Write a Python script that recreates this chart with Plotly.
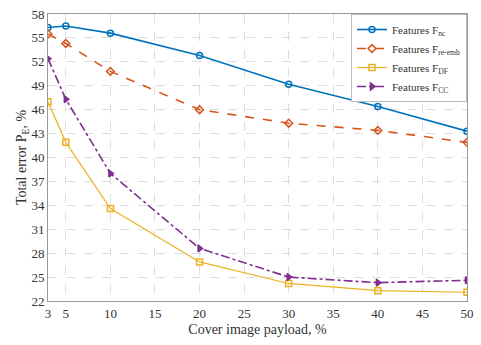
import plotly.graph_objects as go

payload = [3, 5, 10, 20, 30, 40, 50]
f_nc = [56.3, 56.5, 55.6, 52.8, 49.2, 46.4, 43.3]
f_re_emb = [55.5, 54.3, 50.8, 46.0, 44.3, 43.4, 41.9]
f_df = [47.0, 41.9, 33.6, 26.9, 24.2, 23.3, 23.1]
f_cc = [52.4, 47.3, 38.0, 28.6, 25.0, 24.3, 24.6]

x_ticks = [3, 5, 10, 15, 20, 25, 30, 35, 40, 45, 50]
y_ticks = [22, 25, 28, 31, 34, 37, 40, 43, 46, 49, 52, 55, 58]

series = [
    ("Features F<sub>nc</sub>", f_nc, "#0072BD", "circle-open", "solid", 1.6),
    ("Features F<sub>re-emb</sub>", f_re_emb, "#D95319", "diamond-open", "dash", 1.6),
    ("Features F<sub>DF</sub>", f_df, "#EDB120", "square-open", "solid", 1.2),
    ("Features F<sub>CC</sub>", f_cc, "#7E2F8E", "triangle-right", "dashdot", 1.6),
]

fig = go.Figure()
for name, vals, col, sym, dash, w in series:
    fig.add_trace(go.Scatter(
        x=payload, y=vals, name=name, mode="lines+markers",
        line=dict(color=col, width=w, dash=dash),
        marker=dict(symbol=sym, size=6, color=col, line=dict(color=col, width=1.5)),
    ))

font = "Liberation Serif, Times New Roman, serif"
fig.update_layout(
    width=481, height=345,
    margin=dict(l=48, r=10, t=7, b=44),
    paper_bgcolor="white", plot_bgcolor="white",
    font=dict(family=font, size=13, color="#333"),
    showlegend=True,
    legend=dict(x=1, y=1, xanchor="right", yanchor="top",
                bgcolor="white", bordercolor="#bbb", borderwidth=1,
                font=dict(size=11, family=font, color="#333"),
                tracegroupgap=0, itemwidth=30),
    xaxis=dict(range=[3, 50], tickvals=x_ticks, showgrid=True,
               gridcolor="#ddd", griddash="dash", gridwidth=1,
               showline=True, linecolor="#999", mirror=True, zeroline=False,
               ticks="", title=dict(text="Cover image payload, %", standoff=4,
                                    font=dict(size=14))),
    yaxis=dict(range=[22, 58], tickvals=y_ticks, showgrid=True,
               gridcolor="#ddd", griddash="dash", gridwidth=1,
               showline=True, linecolor="#999", mirror=True, zeroline=False,
               ticks="", ticklabeloverflow="allow",
               title=dict(text="Total error P<sub>E</sub>, %", standoff=1,
                          font=dict(size=14))),
)

fig.write_html("out.html")
